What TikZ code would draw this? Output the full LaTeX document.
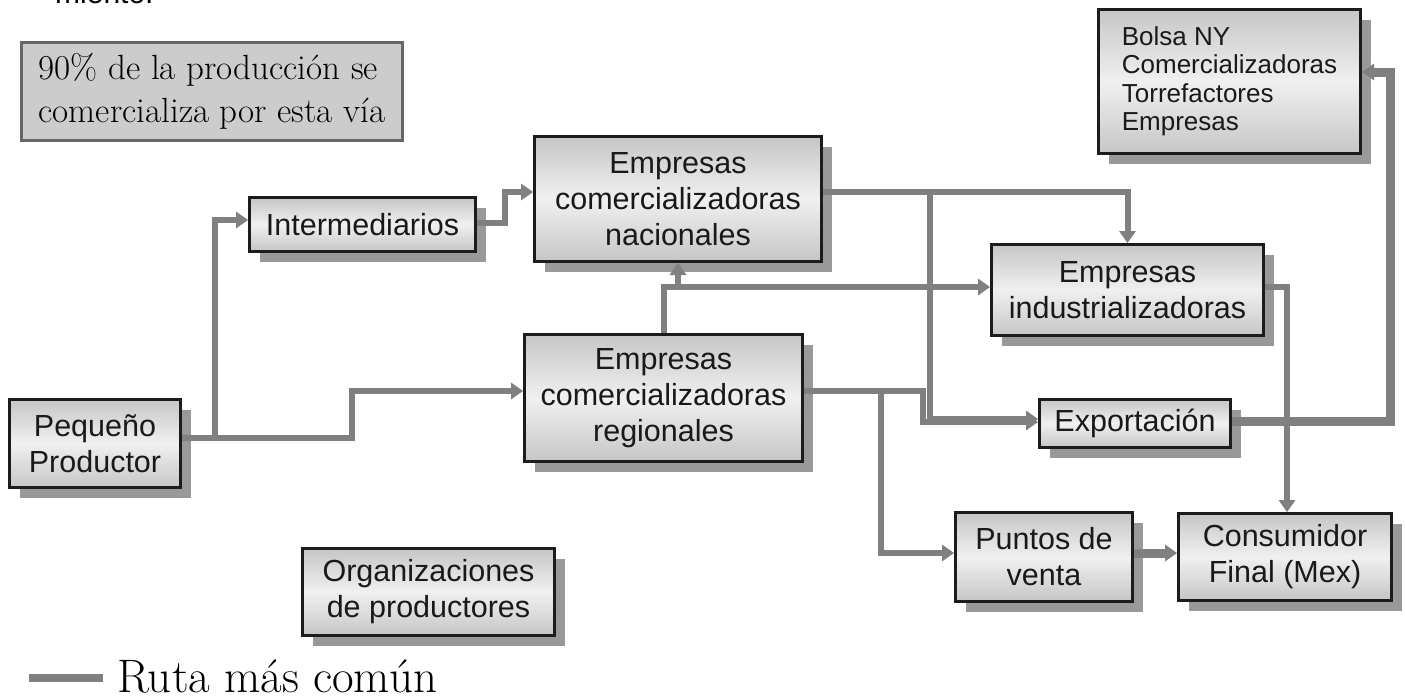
\documentclass[tikz,border=0pt]{standalone}
\usepackage{fontspec}
\setsansfont{Liberation Sans}
\usetikzlibrary{arrows.meta,shadows}
\definecolor{linea}{RGB}{128,128,128}
\definecolor{sombra}{RGB}{153,153,153}
\definecolor{borde}{RGB}{28,28,28}
\definecolor{cajaosc}{RGB}{198,198,198}
\definecolor{cajacla}{RGB}{240,240,240}
\definecolor{notafondo}{RGB}{204,204,204}
\definecolor{notaborde}{RGB}{102,102,102}
\tikzset{
	caja/.style={draw=borde, line width=3pt, top color=cajaosc, bottom color=cajaosc, middle color=cajacla,
		drop shadow={shadow xshift=10pt, shadow yshift=-10pt, fill=sombra, opacity=1},
		inner sep=2pt, align=center, text=black!90, font=\sffamily\fontsize{30.5}{36}\selectfont},
	ruta/.style={draw=linea, line width=6pt, -{Triangle[length=12pt,width=17pt,line width=0pt]}},
	gruesa/.style={ruta, line width=9pt},
}

\begin{document}
\begin{tikzpicture}[x=1pt,y=-1pt]
		\useasboundingbox (0,0) rectangle (1405,699);
		% texto cortado arriba
		\begin{scope}
		\clip (0,0) rectangle (1405,699);
		\node [anchor=base west, inner sep=0pt, font=\sffamily\fontsize{30}{36}\selectfont] (corte) at (55,3) {miento.};
		\end{scope}
		\node [draw=notaborde, fill=notafondo, line width=3pt, minimum width=381pt, minimum height=98pt, inner sep=2pt, align=left, font=\fontsize{35}{43}\selectfont] (nota) at (212,91.5) {90\% de la producción se\\comercializa por esta vía};
		\node [caja, align=left, font=\sffamily\fontsize{26}{28.5}\selectfont, minimum width=262pt, minimum height=144pt] (bolsa) at (1229.5,81.5) {Bolsa NY\\Comercializadoras\\Torrefactores\\Empresas};
		\node [caja, minimum width=226pt, minimum height=54pt] (inter) at (362.5,224.5) {Intermediarios};
		\node [caja, minimum width=287pt, minimum height=125pt] (nac) at (678,199) {Empresas\\comercializadoras\\nacionales};
		\node [caja, minimum width=272pt, minimum height=91pt] (ind) at (1127.5,290) {Empresas\\industrializadoras};
		\node [caja, minimum width=278pt, minimum height=127pt] (reg) at (663.5,398) {Empresas\\comercializadoras\\regionales};
		\node [caja, minimum width=171pt, minimum height=88pt] (peq) at (95,443.5) {Pequeño\\Productor};
		\node [caja, minimum width=191pt, minimum height=48pt] (exp) at (1135,423.5) {Exportación};
		\node [caja, minimum width=177pt, minimum height=89pt] (pv) at (1044,557) {Puntos de\\venta};
		\node [caja, minimum width=213pt, minimum height=87pt] (cons) at (1285,557) {Consumidor\\Final (Mex)};
		\node [caja, minimum width=252pt, minimum height=87pt] (org) at (428.5,592) {Organizaciones\\de productores};
		% rutas
		\draw [ruta] (peq.east |- 0,438) -- (352,438) -- (352,391) -- (reg.west |- 0,391);
		\draw [ruta] (peq.east |- 0,438) -| (215,220) -- (inter.west |- 0,220);
		\draw [ruta] (inter.east |- 0,223) -| (505,192) -- (nac.west |- 0,192);
		\draw [ruta] (nac.east |- 0,192) -| (ind.north);
		\draw [ruta] (nac.east |- 0,192) -| (930,419) -- (exp.west |- 0,419);
		\draw [ruta] (reg.east |- 0,391) -| (923,422) -- (exp.west |- 0,422);
		\draw [ruta] (reg.east |- 0,391) -| (881,553) -- (pv.west |- 0,553);
		\draw [ruta] (reg.north) |- (ind.west |- 0,287);
		\draw [ruta] (reg.north) |- (nac.south |- 0,287) -- (nac.south);
		\draw [ruta] (ind.east |- 0,287) -| (cons.north -| 1287,0);
		\draw [gruesa] (exp.east |- 0,421) -| (1390,72) -- (bolsa.east |- 0,72);
		\draw [gruesa] (pv.east |- 0,553) -- (cons.west |- 0,553);
		% leyenda
		\coordinate (leyA) at (29,678);
		\coordinate (leyB) at (103,678);
		\draw [draw=linea, line width=8pt] (leyA) -- (leyB);
		\node [anchor=base west, inner sep=0pt, font=\fontsize{47}{47}\selectfont] (leyenda) at (117,692) {Ruta más común};
\end{tikzpicture}
\end{document}
